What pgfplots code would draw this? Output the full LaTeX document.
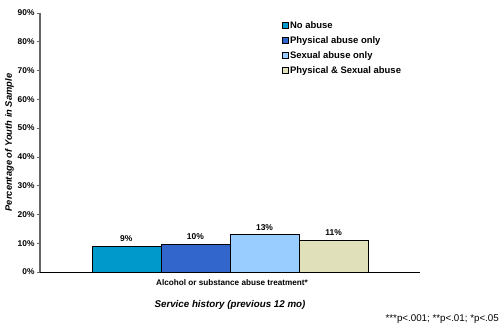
\documentclass[border=0pt]{standalone}
\usepackage{pgfplots}
\pgfplotsset{compat=1.18}
\usepackage{fontspec}
\setmainfont{Liberation Sans}
\definecolor{cA}{RGB}{0,153,204}
\definecolor{cB}{RGB}{51,102,204}
\definecolor{cC}{RGB}{153,204,255}
\definecolor{cD}{RGB}{224,224,186}
\begin{document}
\begin{tikzpicture}[x=1bp,y=1bp]
\path[use as bounding box] (-40bp,-56bp) rectangle (459bp,272bp);
\begin{axis}[
  at={(0,0)}, anchor=south west,
  scale only axis, width=380bp, height=259bp,
  xmin=-2.75, xmax=2.75, ymin=0, ymax=90,
  axis x line=bottom, axis y line=left,
  axis line style={-},
  y axis line style={draw=gray!80!black, line width=1.2pt},
  x axis line style={draw=black, line width=0.8pt},
  ytick={0,10,...,90},
  yticklabel={\pgfmathprintnumber{\tick}\%},
  yticklabel style={font=\fontsize{8.4}{9}\selectfont\bfseries, xshift=1bp},
  /pgf/number format/assume math mode=true,
  ytick style={draw=gray!80!black, line width=0.6pt},
  tick align=outside, major tick length=3bp,
  xtick={0}, xticklabels={Alcohol or substance abuse treatment*},
  xticklabel style={font=\fontsize{8.2}{9}\selectfont\bfseries, yshift=-1bp, xshift=2bp},
  xtick style={draw=none},
  xlabel={Service history (previous 12 mo)},
  xlabel style={font=\fontsize{9.8}{11}\selectfont\bfseries\itshape, yshift=-8bp},
  ylabel={Percentage of Youth in Sample},
  ylabel style={font=\fontsize{9.4}{11}\selectfont\bfseries\itshape, yshift=-3bp},
  ybar, bar width=1, bar shift=0pt,
  nodes near coords={\pgfmathprintnumber{\pgfplotspointmeta}\%},
  nodes near coords style={font=\fontsize{8.5}{9}\selectfont\bfseries, yshift=1bp},
  point meta=explicit,
  legend style={at={(0.633,0.98)}, anchor=north west, draw=none, fill=none,
    font=\fontsize{9.5}{10}\selectfont\bfseries, row sep=2.6bp,
    legend cell align=left, inner sep=1bp},
  legend image code/.code={\draw[#1, draw=black, line width=0.5pt] (0bp,-2.9bp) rectangle (5.8bp,2.9bp);},
]
\addplot[fill=cA, draw=black, line width=0.6pt] coordinates {(-1.5,8.8) [9]};
\addplot[fill=cB, draw=black, line width=0.6pt] coordinates {(-0.5,9.6) [10]};
\addplot[fill=cC, draw=black, line width=0.6pt] coordinates {(0.5,12.95) [13]};
\addplot[fill=cD, draw=black, line width=0.6pt] coordinates {(1.5,11.1) [11]};
\legend{No abuse, Physical abuse only, Sexual abuse only, Physical \& Sexual abuse}
\end{axis}
\node[anchor=east, font=\fontsize{9.8}{10}\selectfont, inner sep=0pt] at (459bp,-47bp) {***p<.001; **p<.01; *p<.05};
\end{tikzpicture}
\end{document}
